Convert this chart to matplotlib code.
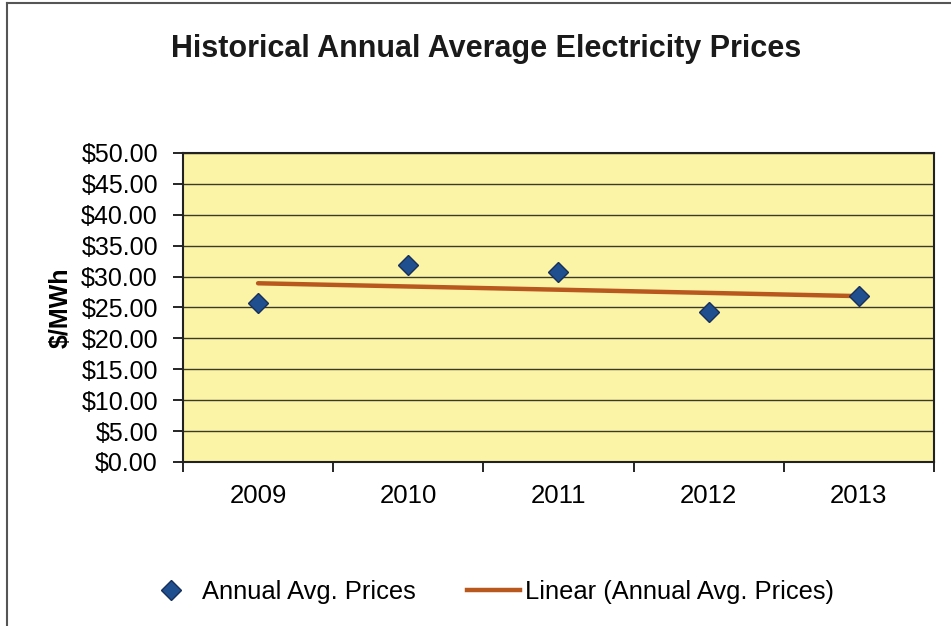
import numpy as np
import matplotlib
matplotlib.use("Agg")
import matplotlib.pyplot as plt
from matplotlib.lines import Line2D

plt.rcParams['font.family'] = ['Liberation Sans', 'DejaVu Sans']

# values
years = ['2009', '2010', '2011', '2012', '2013']
prices = [25.7, 31.8, 30.8, 24.2, 26.9]
y_ticks = [0, 5, 10, 15, 20, 25, 30, 35, 40, 45, 50]

x = np.arange(len(years))
# linear trendline, same as Excel's "Linear (...)"
slope, intercept = np.polyfit(x, prices, 1)
trend = slope * x + intercept

fig = plt.figure(figsize=(9.51, 6.26), dpi=100)
ax = fig.add_axes([0.1924, 0.262, 0.7897, 0.4936])
ax.set_facecolor('#FBF3A6')

for v in y_ticks[1:]:
    ax.axhline(v, color='#3b3a22', linewidth=1.0, zorder=1)

ax.plot(x, trend, color='#B8571E', linewidth=3.2, solid_capstyle='round', zorder=2,
        label='Linear (Annual Avg. Prices)')
ax.plot(x, prices, linestyle='none', marker='D', markersize=10.5,
        markerfacecolor='#1F4F8F', markeredgecolor='#17305A', markeredgewidth=1.0,
        zorder=3, label='Annual Avg. Prices')

ax.set_xlim(-0.5, 4.5)
ax.set_ylim(0, 50)
ax.set_xticks(x)
ax.set_xticklabels(years, fontsize=18.5)
ax.set_xticks(np.arange(-0.5, 5.0, 1.0), minor=True)
ax.tick_params(axis='x', which='major', length=0, pad=16)
ax.tick_params(axis='x', which='minor', length=7, width=1.2, direction='out')
ax.set_yticks(y_ticks)
ax.set_yticklabels(['${:.2f}'.format(v) for v in y_ticks], fontsize=18)
ax.tick_params(axis='y', length=7, width=1.2, direction='out', pad=11)
ax.set_ylabel('$/MWh', fontsize=18, fontweight='bold', labelpad=6)

for s in ax.spines.values():
    s.set_color('#222222')
    s.set_linewidth(1.5)

fig.text(0.511, 0.922, 'Historical Annual Average Electricity Prices',
         ha='center', va='center', fontsize=22, fontweight='bold', color='#1a1a1a')

handles = [
    Line2D([], [], linestyle='none', marker='D', markersize=10,
           markerfacecolor='#1F4F8F', markeredgecolor='#17305A'),
    Line2D([], [], color='#B8571E', linewidth=3.2),
]
fig.legend(handles, ['Annual Avg. Prices', 'Linear (Annual Avg. Prices)'],
           loc='center', bbox_to_anchor=(0.514, 0.054), ncol=2, frameon=False,
           fontsize=18.4, handlelength=2.1, handletextpad=0.16, columnspacing=2.0)

# outer chart frame (left and top edges visible in the scan)
fig.add_artist(Line2D([0.007, 0.007], [0.0, 0.995], color='#555555', linewidth=1.5))
fig.add_artist(Line2D([0.007, 1.0], [0.995, 0.995], color='#555555', linewidth=1.5))

fig.savefig('out.png', dpi=100)
